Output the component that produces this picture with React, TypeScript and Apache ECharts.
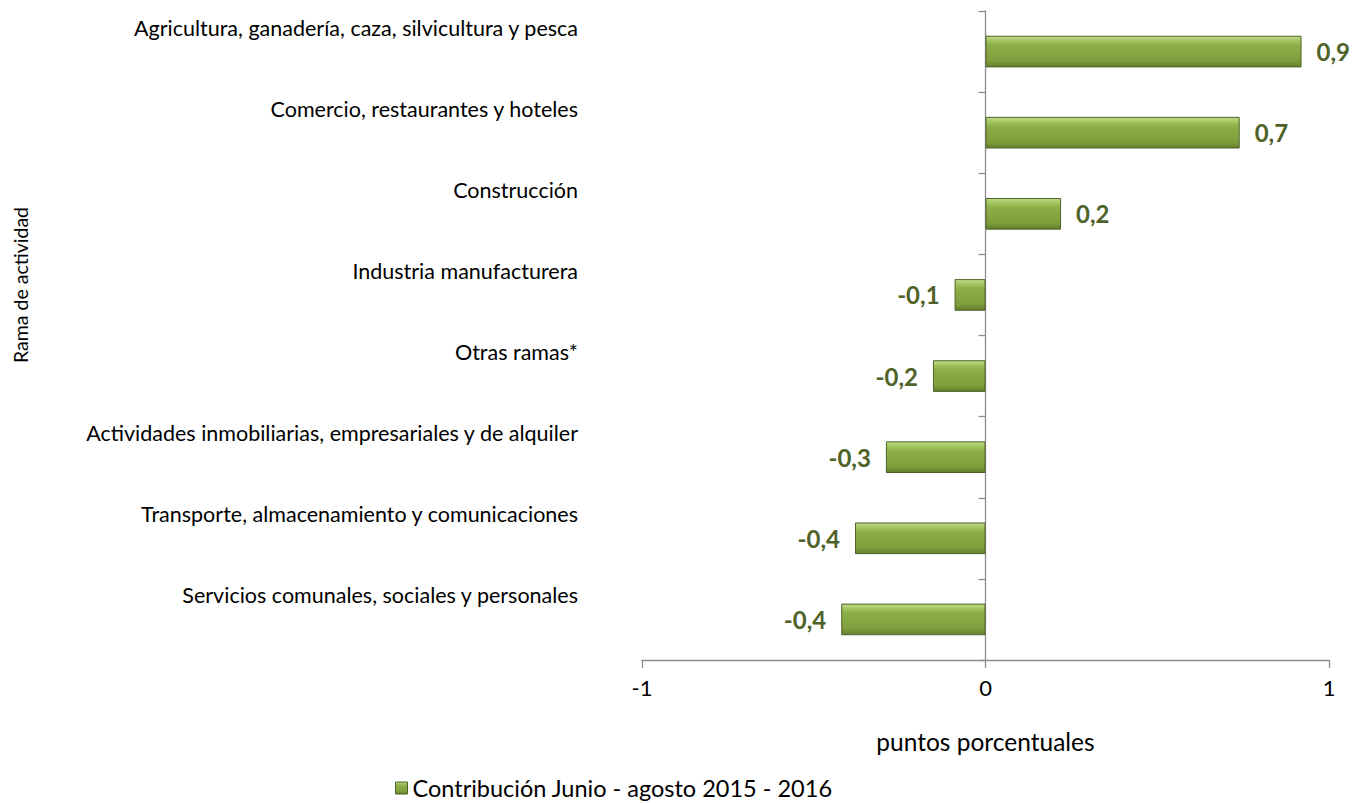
import React, { useEffect, useRef } from "react";
import * as echarts from "echarts";

const categories = [
  "Agricultura, ganadería, caza, silvicultura y pesca",
  "Comercio, restaurantes y hoteles",
  "Construcción",
  "Industria manufacturera",
  "Otras ramas*",
  "Actividades inmobiliarias, empresariales y de alquiler",
  "Transporte, almacenamiento y comunicaciones",
  "Servicios comunales, sociales y personales",
];
const values = [0.92, 0.74, 0.22, -0.09, -0.153, -0.29, -0.38, -0.42];
const xTicks = [-1, 0, 1];
const seriesName = "Contribución Junio - agosto 2015 - 2016";
const xTitle = "puntos porcentuales";
const yTitle = "Rama de actividad";

const FONT = "Lato, sans-serif";

export default function App() {
  const ref = useRef<HTMLDivElement>(null);
  useEffect(() => {
    if (!ref.current) return;
    const chart = echarts.init(ref.current, null, { renderer: "svg" });
    const barColor = new echarts.graphic.LinearGradient(0, 0, 0, 1, [
      { offset: 0, color: "#c0dc88" },
      { offset: 0.18, color: "#9cbf58" },
      { offset: 0.3, color: "#8cae48" },
      { offset: 0.8, color: "#7e9e3c" },
      { offset: 1, color: "#627f2c" },
    ]);
    chart.setOption({
      animation: false,
      textStyle: { fontFamily: FONT },
      grid: { left: 642, right: 24, top: 11, bottom: 143, containLabel: false, outerBoundsMode: "none" },
      xAxis: {
        type: "value",
        min: xTicks[0],
        max: xTicks[xTicks.length - 1],
        interval: 1,
        splitLine: { show: false },
        axisLine: { show: true, onZero: false, lineStyle: { color: "#8c8c8c", width: 1.3 } },
        axisTick: { show: true, length: 8, lineStyle: { color: "#8c8c8c", width: 1.3 } },
        axisLabel: { fontSize: 22, color: "#000", margin: 16, fontFamily: FONT },
        name: xTitle,
        nameLocation: "middle",
        nameGap: 69,
        nameTextStyle: { fontSize: 24.5, color: "#000", fontFamily: FONT },
      },
      yAxis: {
        type: "category",
        inverse: true,
        data: categories,
        axisLine: { show: true, onZero: true, lineStyle: { color: "#8c8c8c", width: 1.3 } },
        axisTick: { show: true, length: 7, lineStyle: { color: "#8c8c8c", width: 1.3 } },
        axisLabel: {
          color: "#000",
          margin: 64,
          formatter: (v: string) => "{a|" + v + "}",
          rich: {
            a: { fontSize: 21.5, color: "#000", fontFamily: FONT, padding: [0, 0, 48, 0] },
          },
        },
      },
      legend: {
        show: true,
        left: 390,
        top: 771,
        itemWidth: 12,
        itemHeight: 12,
        itemGap: 4,
        textStyle: { fontSize: 23.5, color: "#000", fontFamily: FONT },
        data: [{ name: seriesName, icon: "rect", itemStyle: { borderColor: "#4f6228", borderWidth: 1 } }],
      },
      graphic: [
        {
          type: "text",
          x: 20,
          y: 285,
          rotation: Math.PI / 2,
          style: {
            text: yTitle,
            fontSize: 19.5,
            fontFamily: FONT,
            fill: "#000",
            textAlign: "center",
            textVerticalAlign: "middle",
          },
        },
      ],
      series: [
        {
          name: seriesName,
          type: "bar",
          barWidth: "39%",
          itemStyle: { color: barColor, borderColor: "#4f6228", borderWidth: 1 },
          data: values.map((v) => ({
            value: v,
            label: {
              show: true,
              position: v >= 0 ? "right" : "left",
              distance: 15,
              fontSize: 24,
              fontWeight: "bold",
              color: "#4f6228",
              fontFamily: FONT,
              formatter: (p: any) => Number(p.value).toFixed(1).replace(".", ","),
            },
          })),
        },
      ],
    });
    return () => chart.dispose();
  }, []);
  return <div ref={ref} style={{ width: 1353, height: 803, position: "absolute", left: 0, top: 0 }} />;
}
